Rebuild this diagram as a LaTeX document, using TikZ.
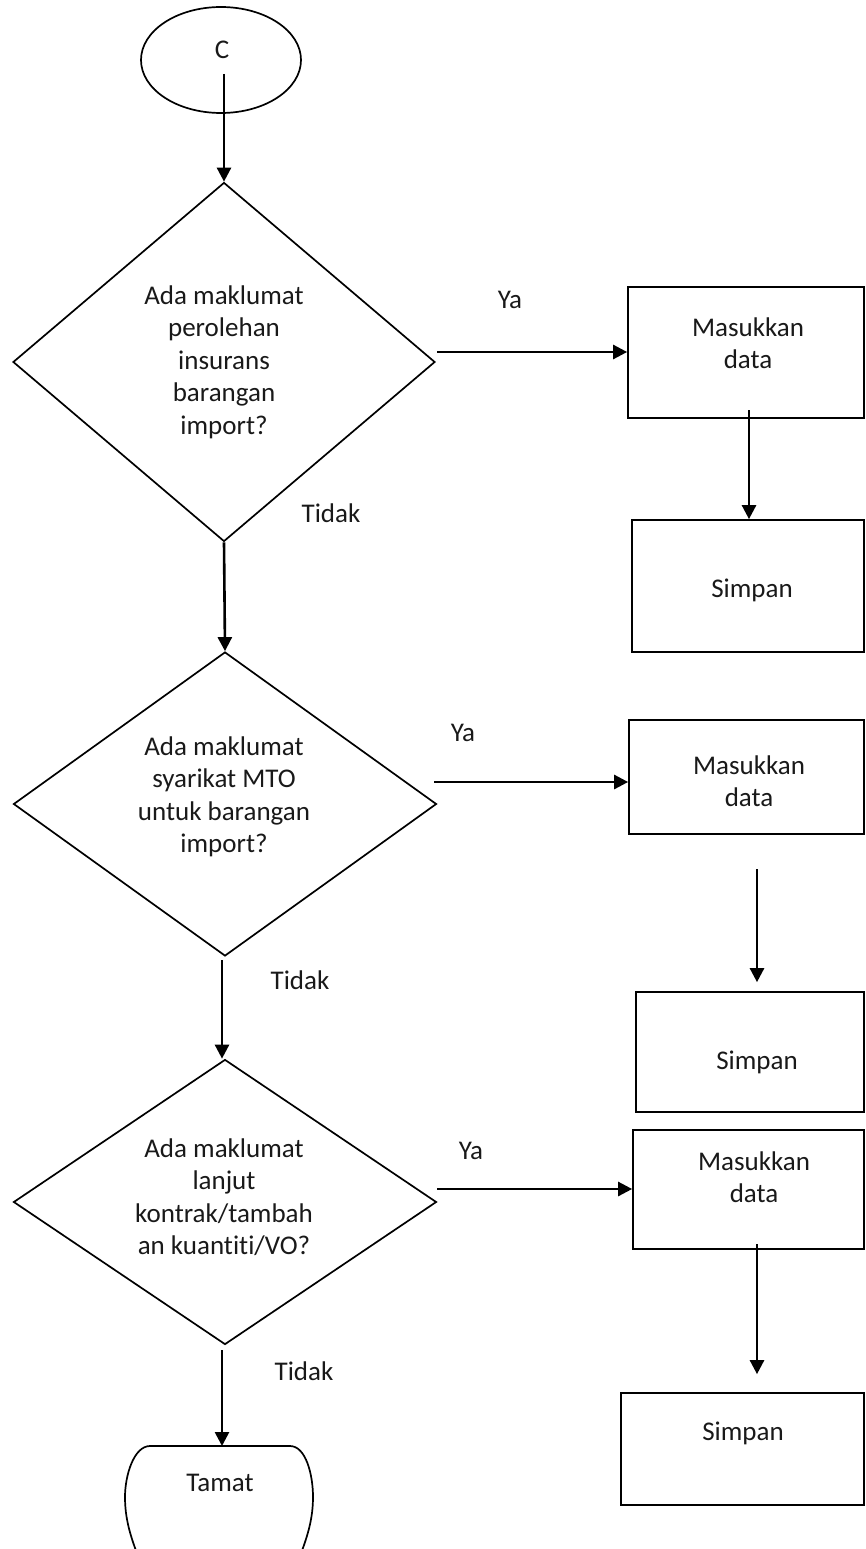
\documentclass[tikz,border=0pt]{standalone}
\usepackage{fontspec}
\setmainfont{Carlito}[Ligatures={NoCommon}]
\usetikzlibrary{shapes.geometric,arrows.meta}
\begin{document}
\begin{tikzpicture}[x=1pt,y=-1pt,
  every node/.style={font=\fontsize{27}{32.5}\selectfont, text=black!90, inner sep=0pt},
  shp/.style={draw=black, line width=1.7pt},
  boxn/.style={shp, rectangle},
  txt/.style={align=center},
  flow/.style={draw=black, line width=2.6pt, -{Triangle[length=14pt,width=14pt]}}
]
\useasboundingbox (0,0) rectangle (865,1549);
% start
\node[shp, ellipse, minimum width=160pt, minimum height=106pt] (start) at (221,60) {};
\node[txt] (tC) at (222,50) {C};
\coordinate (cS) at (224,74);
% diamonds
\node[shp, diamond, minimum width=422pt, minimum height=359pt] (d1) at (224,362) {};
\node[txt] (td1) at (224,362) {Ada maklumat\\perolehan\\insurans\\barangan\\import?};
\node[shp, diamond, minimum width=423pt, minimum height=304pt] (d2) at (225,804) {};
\node[txt] (td2) at (224,797) {Ada maklumat\\syarikat MTO\\untuk barangan\\import?};
\node[shp, diamond, minimum width=423pt, minimum height=285pt] (d3) at (225,1202) {};
\node[txt] (td3) at (224,1197) {Ada maklumat\\lanjut\\kontrak/tambah\\an kuantiti/VO?};
% right boxes
\node[boxn, minimum width=236pt, minimum height=131pt] (b1) at (746,352.5) {};
\node[txt] (tb1) at (748,343) {Masukkan\\data};
\node[boxn, minimum width=232pt, minimum height=132pt] (s1) at (748,586) {};
\node[txt] (ts1) at (752,590) {Simpan};
\node[boxn, minimum width=235pt, minimum height=114pt] (b2) at (746.5,777) {};
\node[txt] (tb2) at (749,781) {Masukkan\\data};
\node[boxn, minimum width=228pt, minimum height=120pt] (s2) at (750,1052) {};
\node[txt] (ts2) at (757,1062) {Simpan};
\node[boxn, minimum width=231pt, minimum height=119pt] (b3) at (748.5,1189.5) {};
\node[txt] (tb3) at (754,1177) {Masukkan\\data};
\node[boxn, minimum width=243pt, minimum height=112pt] (s3) at (742.5,1449) {};
\node[txt] (ts3) at (743,1433) {Simpan};
% Tamat
\draw[shp] (150,1446) -- (290,1446)
  .. controls (306,1446) and (313,1475) .. (313,1497)
  .. controls (313,1518) and (308,1535) .. (300,1556);
\draw[shp] (150,1446)
  .. controls (134,1446) and (125,1475) .. (125,1497)
  .. controls (125,1518) and (130,1535) .. (138,1556);
\coordinate (tamtop) at (222,1446);
\node[txt] (tT) at (220,1483) {Tamat};
% labels
\node (ya1) at (510,300) {Ya};
\node (ya2) at (463,733) {Ya};
\node (ya3) at (471,1151) {Ya};
\node (ti1) at (331,513) {Tidak};
\node (ti2) at (300,980) {Tidak};
\node (ti3) at (304,1371) {Tidak};
% connectors
\draw[flow] (cS) -- (d1.north);
\coordinate (y1s) at (437,352);
\draw[flow] (y1s) -- (y1s -| b1.west);
\coordinate (m1s) at (749,410);
\draw[flow] (m1s) -- (m1s |- s1.north);
\draw[flow] (d1.south) -- (d2.north);
\coordinate (y2s) at (434,782);
\draw[flow] (y2s) -- (y2s -| b2.west);
\coordinate (m2s) at (757,869);
\draw[flow, shorten >=9pt] (m2s) -- (m2s |- s2.north);
\coordinate (n2s) at (222,960);
\draw[flow] (n2s) -- (n2s |- d3.north);
\coordinate (y3s) at (437,1189);
\draw[flow] (y3s) -- (y3s -| b3.west);
\coordinate (m3s) at (757,1244);
\draw[flow, shorten >=18pt] (m3s) -- (m3s |- s3.north);
\coordinate (n3s) at (222,1350);
\draw[flow] (n3s) -- (tamtop);
\end{tikzpicture}
\end{document}
